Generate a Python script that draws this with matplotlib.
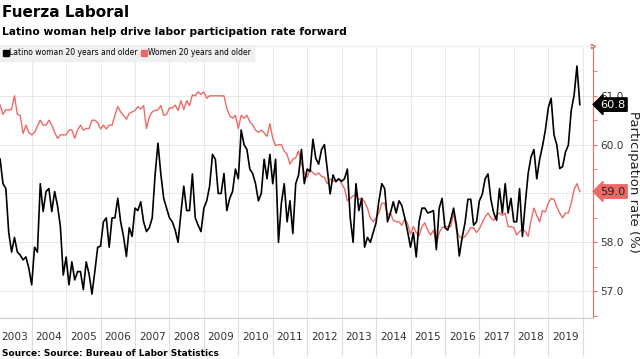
import matplotlib
matplotlib.use("Agg")
import matplotlib.pyplot as plt
from matplotlib.lines import Line2D
import numpy as np

# monthly participation rate, Jan 2003 - Dec 2019
latino = [
    59.8, 59.7, 59.2, 59.1, 58.2, 57.8, 58.1, 57.8, 57.74, 57.64, 57.7, 57.47,     # 2003
    57.13, 57.9, 57.8, 59.2, 58.63, 59.04, 59.1, 58.63, 59.04, 58.75, 58.32, 57.33, # 2004
    57.7, 57.13, 57.6, 57.23, 57.4, 57.4, 57.03, 57.6, 57.35, 56.94, 57.4, 57.9,    # 2005
    57.92, 58.42, 58.5, 57.9, 58.5, 58.5, 58.9, 58.42, 58.12, 57.71, 58.3, 58.12,   # 2006
    58.7, 58.65, 58.83, 58.42, 58.22, 58.3, 58.5, 59.38, 60.03, 59.4, 58.9, 58.7,   # 2007
    58.5, 58.42, 58.25, 58.0, 58.6, 59.15, 58.65, 58.65, 59.4, 58.5, 58.35, 58.22,  # 2008
    58.7, 58.85, 59.15, 59.8, 59.7, 59.0, 59.0, 59.41, 58.65, 58.9, 59.04, 59.5,    # 2009
    59.3, 60.3, 60.0, 59.9, 59.5, 59.41, 59.2, 58.85, 59.0, 59.7, 59.3, 59.8,       # 2010
    59.2, 59.7, 58.0, 58.8, 59.2, 58.42, 58.85, 58.18, 59.2, 59.38, 59.9, 59.2,     # 2011
    59.5, 59.45, 60.11, 59.72, 59.6, 59.9, 60.0, 59.5, 58.99, 59.38, 59.24, 59.3,   # 2012
    59.25, 59.3, 59.5, 58.5, 58.0, 59.2, 58.65, 58.9, 57.9, 58.1, 58.0, 58.2,       # 2013
    58.4, 58.85, 59.2, 59.1, 58.42, 58.6, 58.83, 58.6, 58.85, 58.75, 58.5, 58.22,   # 2014
    57.9, 58.2, 57.7, 58.42, 58.7, 58.7, 58.6, 58.62, 58.65, 57.85, 58.7, 58.9,     # 2015
    58.3, 58.25, 58.45, 58.7, 58.35, 57.72, 58.1, 58.4, 58.88, 58.88, 58.35, 58.42, # 2016
    58.85, 58.98, 59.3, 59.4, 58.88, 58.6, 58.45, 59.1, 58.6, 59.2, 58.6, 58.9,     # 2017
    58.42, 58.42, 59.1, 58.12, 58.8, 59.41, 59.75, 59.9, 59.3, 59.7, 59.97, 60.3,   # 2018
    60.75, 60.95, 60.2, 59.99, 59.51, 59.55, 59.85, 59.99, 60.7, 61.01, 61.61, 60.82, # 2019
]
women = [
    60.85, 60.81, 60.62, 60.71, 60.71, 60.72, 61.0, 60.62, 60.6, 60.23, 60.4, 60.25, # 2003
    60.2, 60.25, 60.38, 60.5, 60.4, 60.4, 60.5, 60.4, 60.25, 60.13, 60.2, 60.2,      # 2004
    60.2, 60.3, 60.3, 60.13, 60.3, 60.4, 60.3, 60.33, 60.33, 60.5, 60.5, 60.45,      # 2005
    60.32, 60.4, 60.32, 60.4, 60.4, 60.6, 60.78, 60.67, 60.6, 60.52, 60.64, 60.67,   # 2006
    60.7, 60.78, 60.73, 60.8, 60.33, 60.57, 60.67, 60.7, 60.71, 60.8, 60.6, 60.62,   # 2007
    60.75, 60.75, 60.81, 60.7, 60.9, 60.72, 60.9, 60.8, 61.02, 61.0, 61.08, 61.03,   # 2008
    61.08, 60.95, 61.0, 61.0, 61.0, 61.0, 61.0, 61.0, 60.74, 60.59, 60.54, 60.6,     # 2009
    60.33, 60.6, 60.54, 60.6, 60.47, 60.4, 60.3, 60.25, 60.3, 60.24, 60.17, 60.43,   # 2010
    60.13, 59.98, 60.0, 60.0, 59.87, 59.8, 59.6, 59.7, 59.73, 59.87, 59.6, 59.43,    # 2011
    59.33, 59.5, 59.42, 59.38, 59.42, 59.35, 59.33, 59.2, 59.3, 59.25, 59.27, 59.3,  # 2012
    59.2, 59.1, 58.85, 58.9, 58.95, 58.98, 58.88, 58.9, 58.83, 58.7, 58.5, 58.42,    # 2013
    58.5, 58.6, 58.8, 58.8, 58.56, 58.6, 58.45, 58.42, 58.42, 58.35, 58.48, 58.38,   # 2014
    58.17, 58.32, 58.2, 58.14, 58.32, 58.4, 58.25, 58.15, 58.25, 57.95, 58.2, 58.3,  # 2015
    58.32, 58.32, 58.32, 58.6, 58.25, 58.12, 58.08, 58.12, 58.2, 58.3, 58.3, 58.2,   # 2016
    58.28, 58.4, 58.52, 58.6, 58.5, 58.45, 58.55, 58.6, 58.55, 58.6, 58.32, 58.32,   # 2017
    58.3, 58.15, 58.22, 58.28, 58.22, 58.12, 58.45, 58.7, 58.55, 58.42, 58.65, 58.62, # 2018
    58.8, 58.9, 58.88, 58.72, 58.6, 58.5, 58.6, 58.6, 58.8, 59.08, 59.2, 59.04,      # 2019
]
years = list(range(2003, 2020))
yticks = [57.0, 58.0, 60.0, 61.0]   # 59.0 sits under the red value tag

black = '#000000'
red = '#ec6a66'

t = 2003 + np.arange(len(latino)) / 12

fig = plt.figure(figsize=(6.4, 3.59), dpi=100)
ax = fig.add_axes([0.0, 0.1142, 0.9266, 0.7577])

ax.plot(t, women, color=red, lw=1.0)
ax.plot(t, latino, color=black, lw=1.2)

ax.set_xlim(2003.08, 2020.3)
ax.set_ylim(56.45, 62.02)

# x axis: separators at year boundaries, labels in the middle
ax.set_xticks(years[1:] + [2020])
ax.set_xticks([y + 0.5 for y in years], minor=True)
ax.set_xticklabels([str(y) for y in years], minor=True)
ax.tick_params(axis='x', which='major', length=27, color='#dddddd', labelbottom=False)
ax.tick_params(axis='x', which='minor', length=0, pad=10, labelsize=7.6, labelcolor='#333333')

ax.yaxis.tick_right()
ax.set_yticks(yticks)
ax.set_yticklabels(['%.1f' % v for v in yticks])
ax.set_yticks(np.arange(56.5, 62.0, 1.0), minor=True)
ax.tick_params(axis='y', which='both', color=red, length=3, labelsize=7.6,
               labelcolor='#333333', pad=2)

ax.grid(True, which='major', color='#e8e8e8', lw=0.7)
ax.axhline(59.0, color='#e8e8e8', lw=0.7, zorder=0)
ax.set_axisbelow(True)
ax.spines['left'].set_visible(False)
ax.spines['top'].set_color('#eeeeee')
ax.spines['bottom'].set_color('#cccccc')
ax.spines['right'].set_color(red)
ax.spines['right'].set_linewidth(0.8)
ax.plot([1.0], [1.0], marker='>', ms=3, color=red, transform=ax.transAxes, clip_on=False)

ax.set_ylabel('Participation rate (%)', rotation=270, labelpad=12, fontsize=9.5, color='#222222')
ax.yaxis.set_label_position('right')

# value tags
tr = ax.get_yaxis_transform()
ax.text(1.012, latino[-1], '%.1f' % latino[-1], transform=tr, va='center', ha='left',
        fontsize=8.2, color='white', zorder=5,
        bbox=dict(boxstyle='larrow,pad=0.15', fc=black, ec=black))
ax.text(1.012, women[-1], '%.1f' % women[-1], transform=tr, va='center', ha='left',
        fontsize=8.2, color='#222222', zorder=5,
        bbox=dict(boxstyle='larrow,pad=0.15', fc=red, ec=red))

# legend
handles = [Line2D([], [], marker='s', ls='none', color=black, markersize=4.3),
           Line2D([], [], marker='s', ls='none', color=red, markersize=4.3)]
leg = ax.legend(handles, ['Latino woman 20 years and older', 'Women 20 years and older'],
                loc='upper left', bbox_to_anchor=(0.0, 1.005), ncol=2, fontsize=5.5,
                frameon=True, fancybox=False, facecolor='#f0f0f0', edgecolor='#f0f0f0',
                handlelength=0.5, handletextpad=0.2, columnspacing=0.6,
                borderpad=0.5, borderaxespad=0.0)
leg.get_frame().set_alpha(1)

fig.text(0.003, 0.985, 'Fuerza Laboral', fontsize=11, fontweight='bold', va='top')
fig.text(0.003, 0.925, 'Latino woman help drive labor participation rate forward',
         fontsize=7.7, fontweight='bold', va='top')
fig.text(0.003, 0.004, 'Source: Source: Bureau of Labor Statistics', fontsize=6.5,
         fontweight='bold', va='bottom')

fig.savefig('out.png', dpi=100)
